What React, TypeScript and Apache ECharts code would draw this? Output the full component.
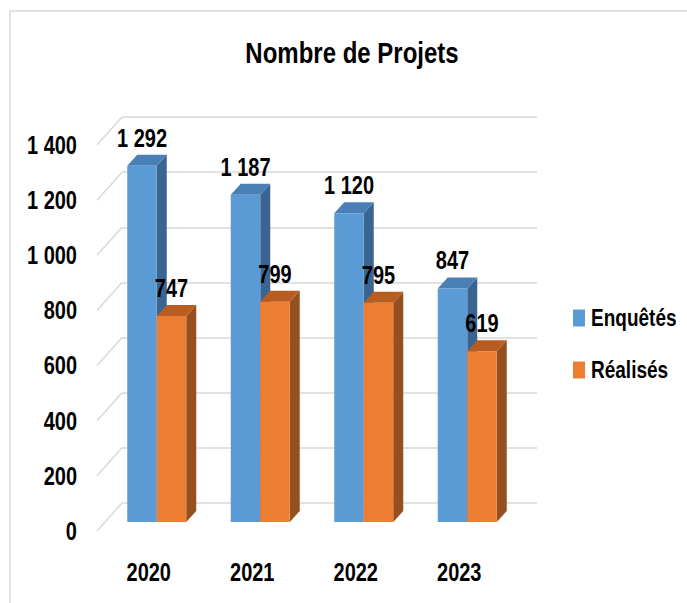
import React, { useEffect, useRef } from "react";
import * as echarts from "echarts";

const categories = ["2020", "2021", "2022", "2023"];
const enquetes = [1292, 1187, 1120, 847];
const realises = [747, 799, 795, 619];
const yTicks = [0, 200, 400, 600, 800, 1000, 1200, 1400];
const seriesNames = ["Enquêtés", "Réalisés"];
const seriesColors = ["#5b9bd5", "#ed7d31"];
const titleText = "Nombre de Projets";

const FONT = "'Liberation Sans', Arial, sans-serif";
const GRID_COLOR = "#d9d9d9";
const SY = 1.26; // vertical stretch of the reference's text

// 3D geometry (pixels)
const BAR_OFF_X = 8;
const BAR_OFF_Y = 9;
const DEPTH_X = 10;
const DEPTH_Y = 11;
const WALL_X = 25;
const WALL_Y = 28;
const BAR_RATIO = 0.285;
const LABEL_RISE = 28;

const fmt = (n: number) => String(n).replace(/\B(?=(\d{3})+(?!\d))/g, " ");

function txt(text: string, x: number, y: number, size: number, align: string) {
  return {
    type: "text",
    x,
    y,
    scaleY: SY,
    style: {
      text,
      fill: "#000",
      font: `bold ${size}px ${FONT}`,
      align,
      verticalAlign: "middle",
    },
  };
}

function makeBarRender(side: "left" | "right", front: string, top: string, sideC: string) {
  return (params: any, api: any) => {
    const ci = api.value(0);
    const v = api.value(1);
    const base = api.coord([ci, 0]);
    const topP = api.coord([ci, v]);
    const bw = api.size([1, 0])[0] * BAR_RATIO;
    const cx = base[0] + BAR_OFF_X;
    const x0 = side === "left" ? cx - bw : cx;
    const x1 = x0 + bw;
    const yb = base[1] - BAR_OFF_Y;
    const yt = topP[1] - BAR_OFF_Y;
    return {
      type: "group",
      children: [
        {
          type: "polygon",
          shape: { points: [[x1, yb], [x1 + DEPTH_X, yb - DEPTH_Y], [x1 + DEPTH_X, yt - DEPTH_Y], [x1, yt]] },
          style: { fill: sideC },
        },
        {
          type: "polygon",
          shape: { points: [[x0, yt], [x0 + DEPTH_X, yt - DEPTH_Y], [x1 + DEPTH_X, yt - DEPTH_Y], [x1, yt]] },
          style: { fill: top },
        },
        {
          type: "rect",
          shape: { x: x0, y: yt, width: bw, height: yb - yt },
          style: { fill: front },
        },
        txt(fmt(v), (x0 + x1) / 2, yt - LABEL_RISE, 20, "center"),
      ],
    };
  };
}

export default function App() {
  const ref = useRef<HTMLDivElement>(null);
  useEffect(() => {
    if (!ref.current) return;
    const chart = echarts.init(ref.current, null, { renderer: "svg" });
    const legendY = [318, 370];
    chart.setOption({
      animation: false,
      backgroundColor: "#ffffff",
      graphic: [
        {
          type: "rect",
          shape: { x: 10, y: 11, width: 760, height: 700 },
          style: { fill: "none", stroke: GRID_COLOR, lineWidth: 1.5 },
          silent: true,
        },
        txt(titleText, 352, 52, 24, "center"),
        ...seriesNames.flatMap((n, i) => [
          {
            type: "rect",
            shape: { x: 573, y: legendY[i] - 8.5, width: 12, height: 17 },
            style: { fill: seriesColors[i] },
          },
          txt(n, 591, legendY[i], 19, "left"),
        ]),
      ],
      grid: [
        { left: 97, right: 176, top: 145, bottom: 72 },
        { left: 97 + WALL_X, right: 150, top: 145 - WALL_Y, bottom: 72 + WALL_Y },
      ],
      xAxis: [
        {
          type: "category",
          gridIndex: 0,
          data: categories,
          axisLine: { show: false },
          axisTick: { show: false },
          axisLabel: { show: false },
        },
        { type: "category", gridIndex: 1, data: categories, show: false },
      ],
      yAxis: [
        {
          type: "value",
          gridIndex: 0,
          min: 0,
          max: 1400,
          interval: 200,
          splitLine: { show: false },
          axisLine: { show: false },
          axisTick: { show: false },
          axisLabel: { show: false },
        },
        {
          type: "value",
          gridIndex: 1,
          min: 0,
          max: 1400,
          interval: 200,
          axisLine: { show: false },
          axisTick: { show: false },
          axisLabel: { show: false },
          splitLine: { show: true, lineStyle: { color: GRID_COLOR, width: 1.5 } },
        },
      ],
      series: [
        {
          type: "custom",
          name: "walls",
          xAxisIndex: 0,
          yAxisIndex: 0,
          silent: true,
          clip: false,
          z: 1,
          data: yTicks.map((t) => [0, t]),
          renderItem: (params: any, api: any) => {
            const t = api.value(1);
            const p = api.coord([0, t]);
            const x = p[0] - api.size([1, 0])[0] / 2;
            return {
              type: "group",
              children: [
                {
                  type: "line",
                  shape: { x1: x, y1: p[1], x2: x + WALL_X, y2: p[1] - WALL_Y },
                  style: { stroke: GRID_COLOR, lineWidth: 1.5 },
                },
                txt(fmt(t), x - 20, p[1], 20, "right"),
              ],
            };
          },
        },
        {
          type: "custom",
          name: "xlabels",
          xAxisIndex: 0,
          yAxisIndex: 0,
          silent: true,
          clip: false,
          z: 1,
          data: categories.map((c, i) => [i, 0]),
          renderItem: (params: any, api: any) => {
            const i = api.value(0);
            const p = api.coord([i, 0]);
            return txt(categories[i], p[0], p[1] + 41, 20, "center");
          },
        },
        {
          type: "custom",
          name: seriesNames[0],
          xAxisIndex: 0,
          yAxisIndex: 0,
          clip: false,
          z: 3,
          itemStyle: { color: seriesColors[0] },
          data: enquetes.map((v, i) => [i, v]),
          renderItem: makeBarRender("left", seriesColors[0], "#4a7fb5", "#3a6592"),
        },
        {
          type: "custom",
          name: seriesNames[1],
          xAxisIndex: 0,
          yAxisIndex: 0,
          clip: false,
          z: 4,
          itemStyle: { color: seriesColors[1] },
          data: realises.map((v, i) => [i, v]),
          renderItem: makeBarRender("right", seriesColors[1], "#b85d21", "#964f1e"),
        },
      ],
    });
    return () => chart.dispose();
  }, []);
  return <div ref={ref} style={{ position: "fixed", left: 0, top: 0, width: 687, height: 603 }} />;
}
